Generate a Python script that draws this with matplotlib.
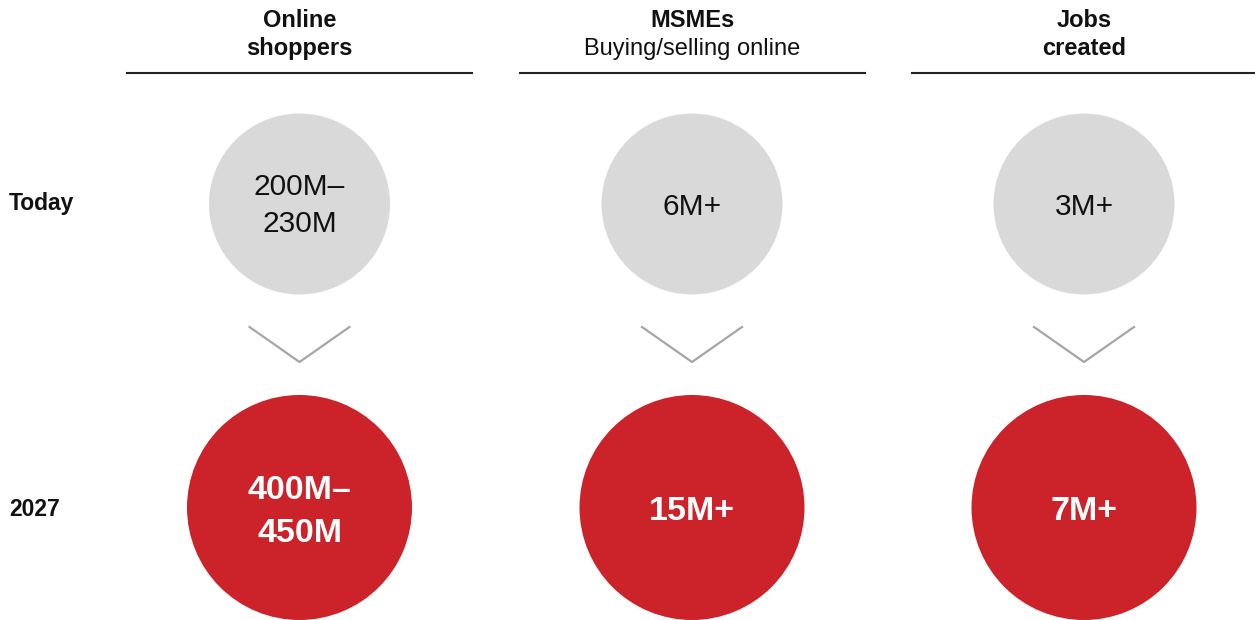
import matplotlib.pyplot as plt
from matplotlib.patches import Circle

# Data
header_bold = [["Online", "shoppers"], ["MSMEs"], ["Jobs", "created"]]
header_sub = ["", "Buying/selling online", ""]
row_labels = ["Today", "2027"]
today_values = [["200M–", "230M"], ["6M+"], ["3M+"]]
future_values = [["400M–", "450M"], ["15M+"], ["7M+"]]

RED = "#CC2229"
GREY = "#D9D9D9"
CHEVRON = "#A6A6A6"
plt.rcParams["font.family"] = ["Liberation Sans", "DejaVu Sans"]

fig = plt.figure(figsize=(12.55, 6.2), dpi=100)
ax = fig.add_axes([0, 0, 1, 1])
ax.set_xlim(0, 1255)
ax.set_ylim(620, 0)
ax.set_aspect("equal")
ax.axis("off")

col_x = [299.5, 692, 1084]
line_half = 173.5


def stacked(x, lines, baselines, **kw):
    for txt, yb in zip(lines, baselines):
        ax.text(x, yb, txt, ha="center", va="baseline", **kw)


for i, cx in enumerate(col_x):
    # header
    bold = header_bold[i]
    if header_sub[i]:
        stacked(cx, bold, [27], fontsize=17, fontweight="bold", color="#111111")
        stacked(cx, [header_sub[i]], [55], fontsize=17, color="#111111")
    else:
        stacked(cx, bold, [27, 55], fontsize=17, fontweight="bold", color="#111111")
    ax.plot([cx - line_half, cx + line_half], [73, 73], color="#222222", lw=1.5,
            solid_capstyle="butt")

    # today circle
    ax.add_patch(Circle((cx, 204), 90.5, facecolor=GREY, edgecolor="none"))
    vals = today_values[i]
    if len(vals) == 2:
        stacked(cx, vals, [195, 231.5], fontsize=21.5, color="#111111")
    else:
        stacked(cx, vals, [215], fontsize=21.5, color="#111111")

    # chevron
    ax.plot([cx - 50, cx, cx + 50], [327, 362, 327], color=CHEVRON, lw=1.6)

    # 2027 circle
    ax.add_patch(Circle((cx, 507.5), 112.5, facecolor=RED, edgecolor="none"))
    vals = future_values[i]
    if len(vals) == 2:
        stacked(cx, vals, [499, 542], fontsize=24.5, fontweight="bold", color="white")
    else:
        stacked(cx, vals, [519.5], fontsize=24.5, fontweight="bold", color="white")

# row labels
ax.text(9, 210, row_labels[0], ha="left", va="baseline", fontsize=16.5,
        fontweight="bold", color="#111111")
ax.text(9, 516, row_labels[1], ha="left", va="baseline", fontsize=16.5,
        fontweight="bold", color="#111111")

fig.savefig("out.png", dpi=100)
